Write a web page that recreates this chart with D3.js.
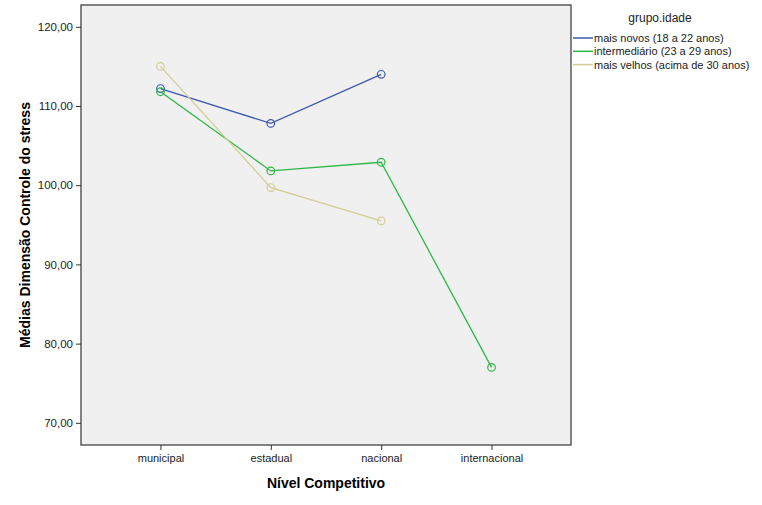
<!DOCTYPE html>
<html>
<head>
<meta charset="utf-8">
<script src="https://cdn.jsdelivr.net/npm/d3@7"></script>
<style>
  body { margin: 0; background: #fff; }
  text { font-family: "Liberation Sans", Arial, sans-serif; }
</style>
</head>
<body>
<div id="chart"></div>
<script>
var categories = ["municipal", "estadual", "nacional", "internacional"];
var groups = ["mais novos (18 a 22 anos)", "intermediário (23 a 29 anos)", "mais velhos (acima de 30 anos)"];
var colors = ["#3e58ac", "#2eb848", "#d3ce97"];
var novos = [112.2, 107.8, 114.0, null];
var intermediario = [111.8, 101.8, 102.9, 77.0];
var velhos = [115.0, 99.7, 95.5, null];
var yTicks = [70, 80, 90, 100, 110, 120];

var series = [novos, intermediario, velhos];

var W = 762, H = 505;
var plot = {left: 81, top: 5, right: 571, bottom: 445};

var svg = d3.select("#chart").append("svg")
    .attr("width", W).attr("height", H);

var x = d3.scalePoint().domain(categories)
    .range([plot.left, plot.right]).padding(0.72);
var y = d3.scaleLinear().domain([67.2, 122.75])
    .range([plot.bottom, plot.top]);

// plot background
svg.append("rect")
    .attr("x", plot.left).attr("y", plot.top)
    .attr("width", plot.right - plot.left).attr("height", plot.bottom - plot.top)
    .attr("fill", "#f0f0f0").attr("stroke", "#444").attr("stroke-width", 1.3);

// axes
var yAxis = svg.append("g")
    .attr("transform", "translate(" + plot.left + ",0)")
    .call(d3.axisLeft(y).tickValues(yTicks).tickSize(5).tickSizeOuter(0)
        .tickFormat(function(d) { return d3.format(".2f")(d).replace(".", ","); }));
yAxis.select(".domain").remove();
yAxis.selectAll("line").attr("stroke", "#333");
yAxis.selectAll("text").attr("font-size", 11.5).attr("fill", "#222")
    .attr("font-family", "Liberation Sans, Arial, sans-serif");

var xAxis = svg.append("g")
    .attr("transform", "translate(0," + plot.bottom + ")")
    .call(d3.axisBottom(x).tickSize(5).tickSizeOuter(0));
xAxis.select(".domain").remove();
xAxis.selectAll("line").attr("stroke", "#333");
xAxis.selectAll("text").attr("font-size", 11).attr("fill", "#222").attr("dy", "0.85em")
    .attr("font-family", "Liberation Sans, Arial, sans-serif");

// axis titles
svg.append("text")
    .attr("x", (plot.left + plot.right) / 2).attr("y", 488)
    .attr("text-anchor", "middle").attr("font-size", 14).attr("font-weight", "bold")
    .text("Nível Competitivo");
svg.append("text")
    .attr("transform", "translate(30," + (plot.top + plot.bottom) / 2 + ") rotate(-90)")
    .attr("text-anchor", "middle").attr("font-size", 14).attr("font-weight", "bold")
    .text("Médias Dimensão Controle do stress");

// lines and markers
var line = d3.line()
    .defined(function(d) { return d.v != null; })
    .x(function(d) { return x(d.c); })
    .y(function(d) { return y(d.v); });

series.forEach(function(s, i) {
    var pts = s.map(function(v, j) { return {c: categories[j], v: v}; });
    svg.append("path")
        .attr("d", line(pts))
        .attr("fill", "none").attr("stroke", colors[i]).attr("stroke-width", 1.3);
    svg.selectAll(".dot" + i)
        .data(pts.filter(function(d) { return d.v != null; }))
        .enter().append("circle")
        .attr("cx", function(d) { return x(d.c); })
        .attr("cy", function(d) { return y(d.v); })
        .attr("r", 3.8)
        .attr("fill", "none").attr("stroke", colors[i]).attr("stroke-width", 1.2);
});

// legend
svg.append("text")
    .attr("x", 660).attr("y", 22)
    .attr("text-anchor", "middle").attr("font-size", 12).attr("fill", "#222")
    .text("grupo.idade");
var leg = svg.selectAll(".leg").data(groups).enter().append("g")
    .attr("transform", function(d, i) { return "translate(573," + (38 + i * 13.3) + ")"; });
leg.append("line")
    .attr("x1", 0).attr("x2", 20).attr("y1", 0).attr("y2", 0)
    .attr("stroke", function(d, i) { return colors[i]; }).attr("stroke-width", 1.5);
leg.append("text")
    .attr("x", 21).attr("y", 4)
    .attr("font-size", 11).attr("fill", "#222")
    .text(function(d) { return d; });
</script>
</body>
</html>
